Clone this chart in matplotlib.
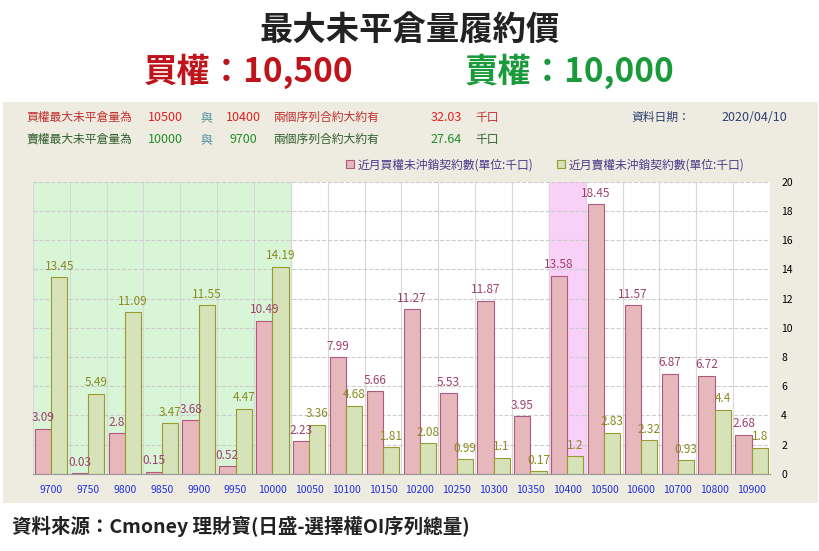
import numpy as np
import matplotlib.pyplot as plt
from matplotlib import font_manager
from matplotlib.patches import Rectangle

cjk = sorted({f.name for f in font_manager.fontManager.ttflist if "CJK" in f.name})
pref = [n for n in ["Noto Sans CJK TC", "Noto Sans CJK JP", "Noto Sans CJK SC"] if n in cjk] or cjk
plt.rcParams["font.family"] = pref[:1] + ["DejaVu Sans"]

strikes = ["9700", "9750", "9800", "9850", "9900", "9950", "10000", "10050", "10100", "10150",
           "10200", "10250", "10300", "10350", "10400", "10500", "10600", "10700", "10800", "10900"]
call_oi = [3.09, 0.03, 2.8, 0.15, 3.68, 0.52, 10.49, 2.23, 7.99, 5.66,
           11.27, 5.53, 11.87, 3.95, 13.58, 18.45, 11.57, 6.87, 6.72, 2.68]
put_oi = [13.45, 5.49, 11.09, 3.47, 11.55, 4.47, 14.19, 3.36, 4.68, 1.81,
          2.08, 0.99, 1.1, 0.17, 1.2, 2.83, 2.32, 0.93, 4.4, 1.8]

fig = plt.figure(figsize=(8.2, 5.51), dpi=100)
fig.patch.set_facecolor("white")

# beige panel
fig.patches.append(Rectangle((0.004, 0.087), 0.994, 0.727, transform=fig.transFigure,
                             facecolor="#eeebe0", edgecolor="none", zorder=-10))

fig.text(0.5, 0.945, "最大未平倉量履約價", ha="center", va="center", fontsize=24, fontweight="bold", color="#222222")
fig.text(0.303, 0.870, "買權：10,500", ha="center", va="center", fontsize=24, fontweight="bold", color="#c0141c")
fig.text(0.695, 0.870, "賣權：10,000", ha="center", va="center", fontsize=24, fontweight="bold", color="#1a9a3a")

y1, y2 = 0.787, 0.747
fig.text(0.032, y1, "買權最大未平倉量為", fontsize=8.5, color="#c03030", va="center")
fig.text(0.18, y1, "10500", fontsize=9, color="#e02020", va="center")
fig.text(0.245, y1, "與", fontsize=8.5, color="#5090a0", va="center")
fig.text(0.275, y1, "10400", fontsize=9, color="#e02020", va="center")
fig.text(0.333, y1, "兩個序列合約大約有", fontsize=8.5, color="#c03030", va="center")
fig.text(0.525, y1, "32.03", fontsize=9, color="#e02020", va="center")
fig.text(0.58, y1, "千口", fontsize=8.5, color="#c03030", va="center")
fig.text(0.032, y2, "賣權最大未平倉量為", fontsize=8.5, color="#306030", va="center")
fig.text(0.18, y2, "10000", fontsize=9, color="#20902a", va="center")
fig.text(0.245, y2, "與", fontsize=8.5, color="#5090a0", va="center")
fig.text(0.28, y2, "9700", fontsize=9, color="#20902a", va="center")
fig.text(0.333, y2, "兩個序列合約大約有", fontsize=8.5, color="#306030", va="center")
fig.text(0.525, y2, "27.64", fontsize=9, color="#20902a", va="center")
fig.text(0.58, y2, "千口", fontsize=8.5, color="#306030", va="center")
fig.text(0.77, y1, "資料日期：", fontsize=8.5, color="#304070", va="center")
fig.text(0.88, y1, "2020/04/10", fontsize=9, color="#304070", va="center")

ax = fig.add_axes([0.040, 0.140, 0.899, 0.530], zorder=5)
ax.set_facecolor("white")
x = np.arange(len(strikes))
w = 0.44
ax.axvspan(-0.5, 6.5, color="#d8f5d8", zorder=0)
ax.axvspan(13.5, 14.5, color="#f8d0f8", zorder=0)
for i in range(len(strikes) + 1):
    ax.axvline(i - 0.5, color="#d8d8d8", lw=0.8, zorder=0.5)
for yv in range(2, 21, 2):
    ax.axhline(yv, color="#cccccc", lw=0.8, ls="--", zorder=0.5)

ax.bar(x - w / 2, call_oi, w, color="#e6b8bc", edgecolor="#b05a80", lw=0.8, zorder=2,
       label="近月買權未沖銷契約數(單位:千口)")
ax.bar(x + w / 2, put_oi, w, color="#d6e2b8", edgecolor="#9a9a30", lw=0.8, zorder=2,
       label="近月賣權未沖銷契約數(單位:千口)")
for xi, v in zip(x, call_oi):
    ax.text(xi - w / 2, v + 0.3, f"{v:g}", ha="center", va="bottom", fontsize=8.5, color="#a04070", zorder=3)
for xi, v in zip(x, put_oi):
    ax.text(xi + w / 2, v + 0.3, f"{v:g}", ha="center", va="bottom", fontsize=8.5, color="#8a8a20", zorder=3)

ax.set_xlim(-0.5, len(strikes) - 0.5)
ax.set_ylim(0, 20)
ax.set_xticks(x)
ax.set_xticklabels(strikes, fontsize=7.5, color="#2030e0")
ax.yaxis.tick_right()
ax.set_yticks(range(0, 21, 2))
ax.tick_params(axis="y", labelsize=7.5, length=0, pad=8)
ax.tick_params(axis="x", length=0, pad=8)
for s in ax.spines.values():
    s.set_visible(False)
ax.spines["bottom"].set_visible(True)
ax.spines["bottom"].set_color("#999999")

leg = ax.legend(loc="lower right", bbox_to_anchor=(0.98, 1.0), ncol=2, frameon=False, fontsize=8.5,
                handlelength=0.7, handleheight=0.7, columnspacing=2.0, handletextpad=0.3)
for t in leg.get_texts():
    t.set_color("#4a3a8a")

fig.text(0.015, 0.045, "資料來源：Cmoney 理財寶(日盛-選擇權OI序列總量)", fontsize=14, fontweight="bold",
         color="#222222", va="center")

fig.savefig("out.png", dpi=100)
